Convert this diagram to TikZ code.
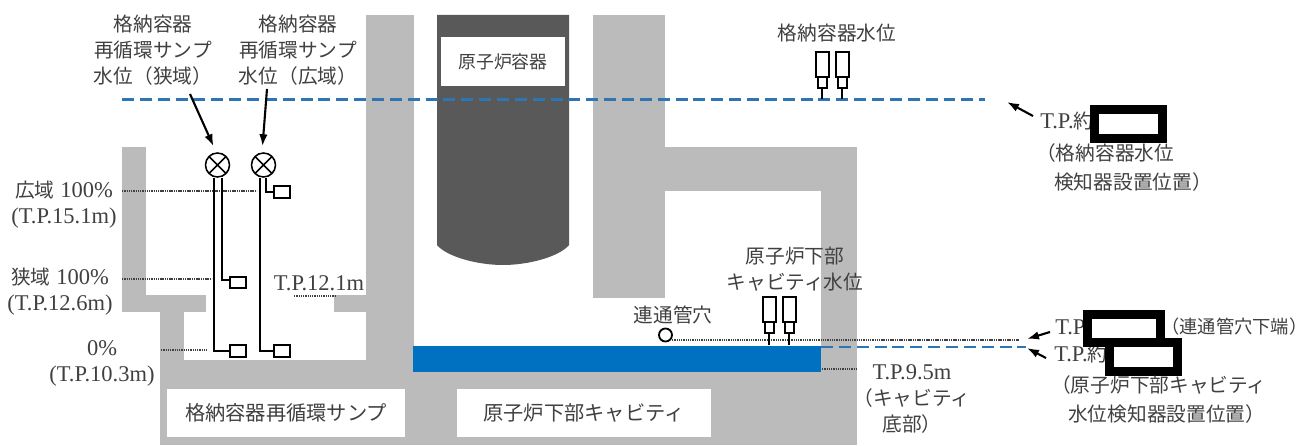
\documentclass[tikz,border=0pt]{standalone}
\usepackage{fontspec}
\setmainfont{Liberation Serif}
\newfontfamily\cjk{Noto Sans CJK JP}
\usetikzlibrary{calc,arrows.meta}
\definecolor{wallgray}{RGB}{187,187,187}
\definecolor{vesselgray}{RGB}{89,89,89}
\definecolor{poolblue}{RGB}{0,112,192}
\definecolor{levelblue}{RGB}{46,117,182}
\definecolor{textgray}{RGB}{64,64,64}
\newcommand\jp[2][14]{{\cjk\fontsize{#1}{16}\selectfont #2}}
\tikzset{
	wall/.style={fill=wallgray, draw=none},
	lbl/.style={text=textgray, inner sep=0, align=center, font=\fontsize{16}{18.5}\selectfont},
	level/.style={color=levelblue, line width=1.8pt, dash pattern=on 8.5pt off 4.2pt},
	dots/.style={line width=0.9pt, color=black!75, dash pattern=on 0.9pt off 0.7pt},
	wire/.style={line width=0.9pt},
	gauge/.style={circle, draw, line width=1.1pt, minimum size=0.6cm, inner sep=0, fill=white,
		path picture={\draw[line width=1.1pt] (path picture bounding box.south west) -- (path picture bounding box.north east)
			(path picture bounding box.north west) -- (path picture bounding box.south east);}},
	gaugebox/.style={rectangle, draw, line width=1.5pt, fill=white, minimum width=0.4cm, minimum height=0.28cm, inner sep=0},
	pointer/.style={-{Latex[length=8.5pt, width=6pt]}, line width=1.5pt},
	blanked/.style={draw=black, fill=white, line width=6.4pt}
}
% one water level probe: body, neck and stem
\def\probe(#1,#2,#3){
	\draw[line width=1.5pt] (#1-6,#2) rectangle (#1+7,#2+25);
	\draw[line width=1.5pt] (#1-4,#2+25) rectangle (#1+5,#2+36);
	\draw[line width=1.1pt] (#1,#2+36) -- (#1,#3);
}
\begin{document}
\begin{tikzpicture}[x=0.025cm, y=-0.025cm]
	%%%%% START %%%%%
	\useasboundingbox (0, 0) rectangle (1310, 446);

	\fill[wall] (122, 147) rectangle (146, 312);
	\fill[wall] (122, 295) rectangle (206, 312);
	\fill[wall] (160, 312) rectangle (184, 445);
	\fill[wall] (334, 295) rectangle (366, 312);
	\fill[wall] (366, 15) rectangle (414, 372);
	\fill[wall] (160, 360) rectangle (414, 445);
	\fill[wall] (414, 372) rectangle (857, 445);
	\fill[wall] (593, 15) rectangle (665, 298);
	\fill[wall] (665, 147) rectangle (857, 191);
	\fill[wall] (821, 191) rectangle (857, 445);

	\fill[vesselgray] (437, 15) -- (437, 245) .. controls (447, 257) and (478, 265) .. (503, 265)
		.. controls (528, 265) and (559, 257) .. (569, 245) -- (569, 15) -- cycle;
	\fill[poolblue] (413, 346) rectangle (821, 372);

	\node[fill=white, minimum width=3.1cm, minimum height=1.225cm, inner sep=0] (vesselplate) at (503, 61.5) {};
	\node[lbl] (vesseltext) at (vesselplate) {\jp[12.7]{原子炉容器}};
	\node[fill=white, minimum width=5.95cm, minimum height=1.2cm, inner sep=0] (sumpplate) at (286, 413) {};
	\node[lbl] (sumptext) at (sumpplate) {\jp[14.4]{格納容器再循環サンプ}};
	\node[fill=white, minimum width=6.35cm, minimum height=1.2cm, inner sep=0] (cavityplate) at (584, 413) {};
	\node[lbl] (cavitytext) at (cavityplate) {\jp[14.4]{原子炉下部キャビティ}};

	% water levels
	\draw[level] (122, 99.5) -- (985, 99.5);
	\draw[level] (821, 347) -- (1026, 347);

	% dotted elevation marks
	\draw[dots] (122, 191) -- (257, 191);
	\draw[dots] (122, 279) -- (212, 279);
	\draw[dots] (294, 296) -- (335, 296);
	\draw[dots] (161, 350) -- (207, 350);
	\draw[dots] (822, 369) -- (857, 369);
	\draw[dots] (672, 340) -- (1019, 340);
	\draw[line width=1.3pt, fill=white] (665.5, 335) circle (6.5);

	% sump gauges
	\node[gauge] (narrowgauge) at (217.5, 165) {};
	\node[gauge] (widegauge) at (263.5, 165) {};
	\node[gaugebox] (narrowlow) at (238, 351) {};
	\node[gaugebox] (narrowhigh) at (238, 282.5) {};
	\node[gaugebox] (widelow) at (282, 351) {};
	\node[gaugebox] (widehigh) at (282, 192) {};
	\draw[wire, line width=1.3pt] ([xshift=-0.09cm]narrowgauge.south) |- (narrowlow.west);
	\draw[wire, line width=1.3pt] ([xshift=0.11cm]narrowgauge.south) |- ([yshift=0.07cm]narrowhigh.west);
	\draw[wire] ([xshift=-0.09cm]widegauge.south) |- (widelow.west);
	\draw[wire] ([xshift=0.06cm]widegauge.south) |- (widehigh.west);

	% probes
	\probe(822,52,99)
	\probe(842,52,99)
	\probe(769,297,345)
	\probe(789,297,345)

	% texts
	\node[lbl] (narrowname) at (153, 50) {\jp{格納容器}\\\jp{再循環サンプ}\\\jp{水位（狭域）}};
	\node[lbl] (widename) at (298, 50) {\jp{格納容器}\\\jp{再循環サンプ}\\\jp{水位（広域）}};
	\coordinate (narrowfrom) at (190, 94);
	\coordinate (widefrom) at (267, 89);
	\draw[pointer] (narrowfrom) -- ([shift={(-4,-6)}]narrowgauge.north);
	\draw[pointer] (widefrom) -- ([shift={(-1,-6)}]widegauge.north);

	\node[lbl] (widetop) at (64, 205) {\jp{広域} 100\%\\(T.P.15.1m)};
	\node[lbl] (narrowtop) at (60, 292) {\jp{狭域} 100\%\\(T.P.12.6m)};
	\node[lbl] (zerolevel) at (102, 363) {0\%\\(T.P.10.3m)};
	\node[lbl] (shelflevel) at (319, 283) {T.P.12.1m};
	\node[lbl] (vesselgaugename) at (837, 33) {\jp{格納容器水位}};
	\node[lbl] (cavitygaugename) at (795, 269) {\jp{原子炉下部}\\\jp{キャビティ水位}};
	\node[lbl] (holename) at (673, 315) {\jp{連通管穴}};
	\node[lbl] (cavityfloor) at (912, 399) {T.P.9.5m\\\jp{（キャビティ}\\\jp{底部）}};

	\node[lbl, anchor=west] (uppertp) at (1040, 121) {T.P.\jp{約}};
	\node[lbl, anchor=west] (holetp) at (1055, 327) {T.P.};
	\node[lbl, anchor=west] (lowertp) at (1054, 354) {T.P.\jp{約}};
	\draw[blanked] (1094, 110) rectangle (1162, 139);
	\draw[blanked] (1087, 314) rectangle (1160, 342);
	\draw[blanked] (1109, 342) rectangle (1177, 371);

	\node[lbl, anchor=west] (upperwhere) at (1036, 153) {\jp{（格納容器水位}};
	\node[lbl, anchor=west] (upperwhere2) at (1054, 182) {\jp{検知器設置位置）}};
	\node[lbl, anchor=west] (holewhere) at (1161, 327) {\jp[13]{（連通管穴下端）}};
	\node[lbl, anchor=west] (lowerwhere) at (1051, 385) {\jp{（原子炉下部キャビティ}};
	\node[lbl, anchor=west] (lowerwhere2) at (1068, 414) {\jp{水位検知器設置位置）}};

	\coordinate (upperfrom) at (1033, 116);
	\coordinate (upperto) at (1007, 102);
	\coordinate (holefrom) at (1050, 332);
	\coordinate (holeto) at (1027, 339);
	\coordinate (lowerfrom) at (1046, 358);
	\coordinate (lowerto) at (1027, 348);
	\draw[pointer] (upperfrom) -- (upperto);
	\draw[pointer] (holefrom) -- (holeto);
	\draw[pointer] (lowerfrom) -- (lowerto);
	%%%%% END %%%%%
\end{tikzpicture}
\end{document}
